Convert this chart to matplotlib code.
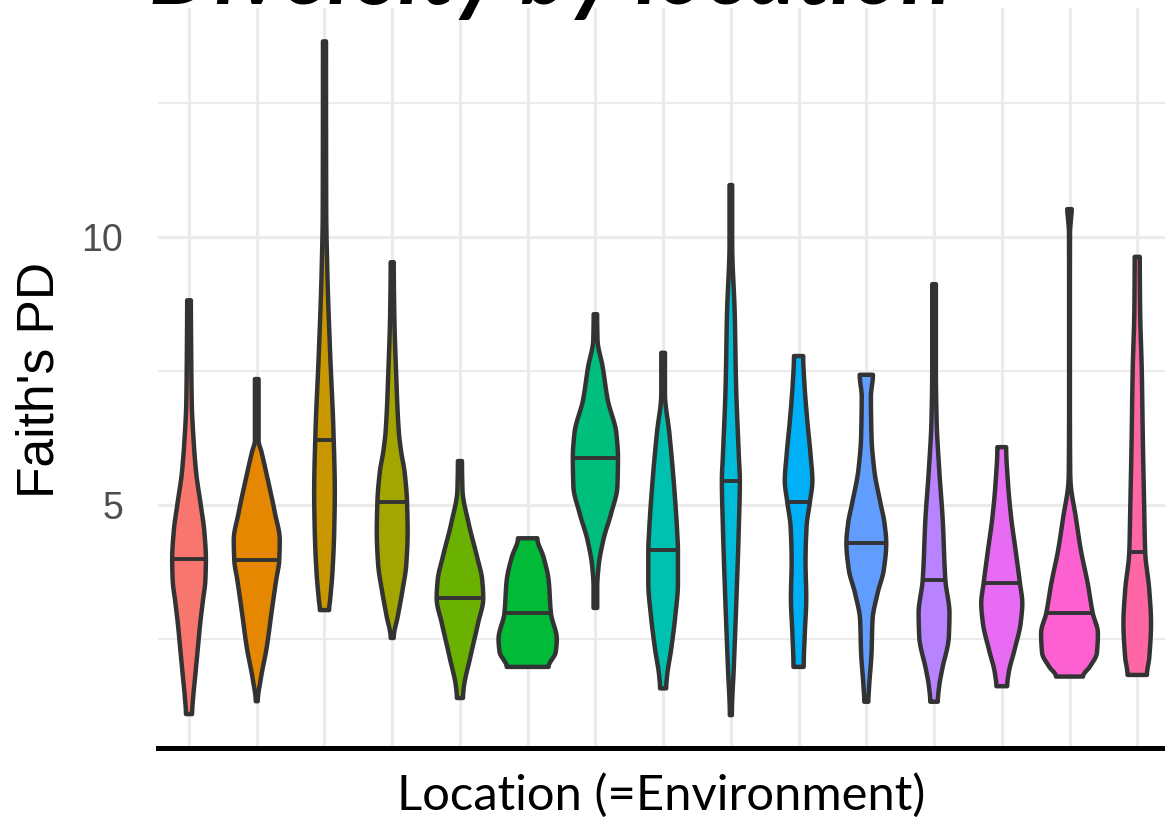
import numpy as np
import matplotlib
matplotlib.use("Agg")
import matplotlib.pyplot as plt
from matplotlib.patches import Polygon

# ---------------- data ----------------
locations = ["L01", "L02", "L03", "L04", "L05", "L06", "L07", "L08",
             "L09", "L10", "L11", "L12", "L13", "L14", "L15"]
colors = ["#F8766D", "#E58700", "#C99800", "#A3A500", "#6BB100", "#00BA38",
          "#00BF7D", "#00C0AF", "#00BCD8", "#00B0F6", "#619CFF", "#B983FF",
          "#E76BF3", "#FD61D1", "#FF67A4"]
medians = [3.99, 3.97, 6.21, 5.06, 3.26, 2.99, 5.88, 4.16, 5.45, 5.06,
           4.29, 3.60, 3.54, 2.98, 4.12]

# violin density profiles: Faith's PD levels (top -> bottom) and relative density
v01_y = [8.82, 7.9, 6.9, 6.2, 5.6, 5.0, 4.5, 4.0, 3.6, 3.2, 2.8, 2.3, 1.8, 1.4, 1.1]
v01_d = [1.8, 2.1, 2.7, 4.5, 7.0, 11.5, 15.0, 16.5, 16.0, 13.5, 11.0, 8.5, 6.0, 4.0, 3.0]
v02_y = [7.35, 6.2, 6.0, 5.5, 4.85, 4.35, 3.97, 3.6, 3.0, 2.35, 1.74, 1.34]
v02_d = [1.8, 1.8, 4.5, 10.5, 17.8, 22.5, 22.0, 19.0, 14.5, 9.8, 3.8, 1.0]
v03_y = [13.65, 10.5, 9.35, 7.85, 6.36, 5.24, 4.5, 3.75, 3.23, 3.04]
v03_d = [1.5, 1.7, 2.8, 5.5, 8.8, 10.1, 9.5, 7.8, 5.5, 4.5]
v04_y = [9.53, 8.6, 7.48, 6.36, 5.99, 5.62, 5.06, 4.5, 3.9, 3.38, 2.93, 2.52]
v04_d = [1.5, 2.0, 3.8, 6.5, 8.8, 12.1, 14.5, 15.1, 13.8, 9.8, 5.5, 1.5]
v05_y = [5.82, 5.28, 4.66, 4.03, 3.6, 3.26, 2.8, 2.16, 1.55, 1.4]
v05_d = [2.0, 2.5, 8.5, 16.8, 21.8, 22.8, 17.8, 10.1, 3.5, 3.0]
v06_y = [4.38, 4.03, 3.6, 2.98, 2.5, 2.26, 1.98]
v06_d = [9.5, 15.5, 20.5, 22.8, 28.5, 27.5, 20.5]
v07_y = [8.56, 8.08, 7.58, 6.96, 6.34, 5.88, 5.34, 4.85, 4.35, 3.85, 3.47, 3.08]
v07_d = [1.7, 2.1, 7.1, 12.1, 20.5, 22.1, 21.5, 15.5, 7.8, 3.1, 1.8, 1.8]
v08_y = [7.84, 7.09, 6.34, 5.41, 4.48, 4.16, 3.54, 2.91, 2.3, 1.8, 1.58]
v08_d = [1.8, 1.8, 6.1, 10.5, 13.8, 14.5, 14.5, 11.8, 7.8, 3.8, 3.0]
v09_y = [10.97, 9.89, 8.56, 7.24, 5.92, 5.45, 4.59, 3.27, 1.94, 1.08]
v09_d = [1.3, 1.3, 3.8, 5.1, 7.8, 8.8, 7.8, 5.5, 2.8, 1.0]
v10_y = [7.78, 7.24, 6.58, 5.92, 5.45, 5.06, 4.59, 3.94, 3.27, 2.61, 1.98]
v10_d = [4.5, 5.8, 8.5, 11.8, 13.5, 11.1, 7.8, 6.8, 7.5, 6.1, 5.0]
v11_y = [7.43, 7.02, 6.27, 5.65, 5.04, 4.66, 4.29, 3.79, 3.36, 2.86, 2.24, 1.63, 1.33]
v11_d = [6.5, 4.5, 5.1, 7.8, 13.8, 17.8, 19.5, 17.1, 11.1, 6.1, 5.1, 2.8, 2.0]
v12_y = [9.12, 7.52, 6.59, 5.65, 4.72, 3.6, 2.98, 2.55, 1.92, 1.63, 1.33]
v12_d = [1.8, 1.8, 2.5, 5.1, 8.5, 11.1, 15.1, 14.5, 7.8, 5.1, 3.7]
v13_y = [6.08, 5.41, 4.78, 4.16, 3.54, 3.17, 2.8, 2.3, 1.87, 1.62]
v13_d = [4.3, 6.1, 9.1, 13.5, 17.8, 20.1, 18.5, 12.5, 6.8, 5.3]
v14_y = [10.52, 10.35, 10.07, 8.82, 6.96, 5.6, 5.41, 4.78, 4.16, 3.54, 2.98, 2.61, 2.24, 1.99, 1.8]
v14_d = [2.2, 1.5, 0.5, 0.4, 0.4, 0.7, 1.1, 6.1, 11.1, 17.8, 22.8, 27.8, 26.8, 20.1, 13.2]
v15_y = [9.63, 8.69, 7.46, 6.21, 4.96, 4.12, 3.41, 2.8, 2.16, 1.83]
v15_d = [2.5, 2.8, 4.5, 5.5, 6.8, 7.8, 11.8, 13.5, 11.8, 9.5]

profiles_y = [v01_y, v02_y, v03_y, v04_y, v05_y, v06_y, v07_y, v08_y,
              v09_y, v10_y, v11_y, v12_y, v13_y, v14_y, v15_y]
profiles_d = [v01_d, v02_d, v03_d, v04_d, v05_d, v06_d, v07_d, v08_d,
              v09_d, v10_d, v11_d, v12_d, v13_d, v14_d, v15_d]

title = "Diversity by location"
xlabel = "Location (=Environment)"
ylabel = "Faith's PD"
yticks = [5, 10]
yticklabels = ["5", "10"]


# ---------------- helpers ----------------
def pchip(x, y, xn):
    x = np.asarray(x, float)
    y = np.asarray(y, float)
    o = np.argsort(x)
    x, y = x[o], y[o]
    h = np.diff(x)
    delta = np.diff(y) / h
    n = len(x)
    m = np.zeros(n)
    for k in range(1, n - 1):
        if delta[k - 1] * delta[k] <= 0:
            m[k] = 0.0
        else:
            w1 = 2 * h[k] + h[k - 1]
            w2 = h[k] + 2 * h[k - 1]
            m[k] = (w1 + w2) / (w1 / delta[k - 1] + w2 / delta[k])
    idx = np.clip(np.searchsorted(x, xn) - 1, 0, n - 2)
    t = (xn - x[idx]) / h[idx]
    h00 = 2 * t**3 - 3 * t**2 + 1
    h10 = t**3 - 2 * t**2 + t
    h01 = -2 * t**3 + 3 * t**2
    h11 = t**3 - t**2
    return (h00 * y[idx] + h10 * h[idx] * m[idx] +
            h01 * y[idx + 1] + h11 * h[idx] * m[idx + 1])


# ---------------- figure ----------------
W, H = 1165, 819
fig = plt.figure(figsize=(W / 100, H / 100), dpi=100)
fig.patch.set_facecolor("white")

# panel: x-axis line at 748 px from the top, panel top at ~8 px
ax = fig.add_axes([158 / W, 71 / H, 1007 / W, 740 / H])
ax.set_xlim(0.542, 15.41)
ax.set_ylim(0.467, 14.273)

xpos = np.arange(1, len(locations) + 1)
ax.set_xticks(xpos)
ax.set_xticklabels([])
ax.set_yticks(yticks)
ax.set_yticklabels(yticklabels, fontsize=27, color="#4D4D4D",
                   family=["Liberation Sans", "DejaVu Sans"])
ax.set_yticks([2.5, 7.5, 12.5], minor=True)
ax.tick_params(axis="both", which="both", length=0)
ax.tick_params(axis="y", pad=25)
ax.grid(True, which="major", color="#EBEBEB", lw=2.3, zorder=0)
ax.grid(True, which="minor", axis="y", color="#EBEBEB", lw=1.5, zorder=0)
ax.set_axisbelow(True)
for s in ["left", "right", "top"]:
    ax.spines[s].set_visible(False)
ax.spines["bottom"].set_color("black")
ax.spines["bottom"].set_linewidth(3.6)
ax.spines["bottom"].set_zorder(5)

dmax = max(max(d) for d in profiles_d)
for i, (ys, ds) in enumerate(zip(profiles_y, profiles_d)):
    c = xpos[i]
    ygrid = np.linspace(min(ys), max(ys), 500)
    hw = pchip(ys, ds, ygrid)
    hw = np.clip(hw, 0.25, None) / dmax * 0.43
    verts = np.concatenate([
        np.column_stack([c - hw, ygrid]),
        np.column_stack([c + hw, ygrid])[::-1]])
    poly = Polygon(verts, closed=True, facecolor=colors[i], edgecolor="#333333",
                   lw=3.2, joinstyle="round", zorder=3)
    ax.add_patch(poly)
    mhw = np.interp(medians[i], ygrid, hw)
    ax.plot([c - mhw, c + mhw], [medians[i], medians[i]], color="#333333",
            lw=2.8, solid_capstyle="butt", zorder=4)

# labels
renderer = fig.canvas.get_renderer()


def fit(t, target_px):
    bb = t.get_window_extent(renderer=renderer)
    t.set_fontsize(t.get_fontsize() * target_px / bb.width)


xl = fig.text(661.5 / W, (H - 810) / H, xlabel, ha="center", va="baseline",
              fontsize=36, family=["Lato", "DejaVu Sans"], color="black")
fit(xl, 530)

yl = fig.text(40 / W, (H - 380) / H, ylabel, rotation=90, ha="center",
              va="center", fontsize=36, family=["Liberation Sans", "DejaVu Sans"],
              color="black")
bb = yl.get_window_extent(renderer=renderer)
yl.set_fontsize(yl.get_fontsize() * 236 / bb.height)

tt = fig.text(149 / W, 1 - 4 / H, title, ha="left", va="baseline",
              fontsize=60, fontweight="bold", style="italic",
              family=["Lato", "DejaVu Sans"], color="black", zorder=10)
fit(tt, 803)

fig.savefig("out.png", dpi=100, facecolor="white")
